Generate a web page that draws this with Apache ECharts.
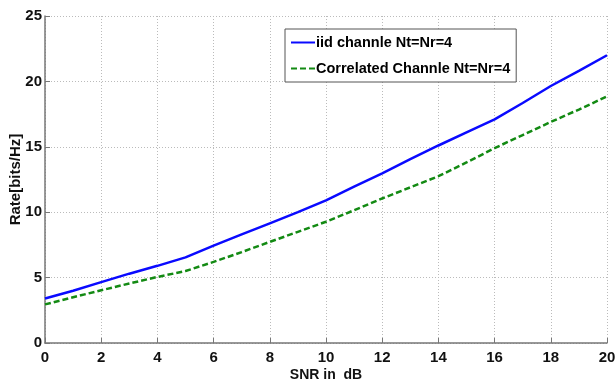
<!DOCTYPE html>
<html>
<head>
<meta charset="utf-8">
<script src="https://cdn.jsdelivr.net/npm/echarts@6/dist/echarts.min.js"></script>
<style>
  html, body { margin: 0; padding: 0; background: #fff; }
  #container { width: 615px; height: 382px; }
</style>
</head>
<body>
<div id="container"></div>
<script>
// SNR (dB) values
var snr = [0, 1, 2, 3, 4, 5, 6, 7, 8, 9, 10, 11, 12, 13, 14, 15, 16, 17, 18, 19, 20];
// rate, iid channel
var iidRate = [3.4, 4.0, 4.65, 5.3, 5.9, 6.55, 7.45, 8.3, 9.15, 10.0, 10.9, 11.95, 12.97, 14.05, 15.1, 16.1, 17.1, 18.35, 19.65, 20.8, 22.0];
// rate, correlated channel
var corrRate = [2.95, 3.5, 4.03, 4.55, 5.05, 5.5, 6.2, 6.95, 7.73, 8.5, 9.27, 10.15, 11.05, 11.9, 12.75, 13.8, 14.9, 15.9, 16.9, 17.85, 18.85];
var seriesNames = ['iid channle Nt=Nr=4', 'Correlated Channle Nt=Nr=4'];

function pairs(xs, ys) {
    return xs.map(function (x, i) { return [x, ys[i]]; });
}

var font = 'Liberation Sans, Arial, sans-serif';
var myChart = echarts.init(document.getElementById('container'));
myChart.setOption({
    animation: false,
    grid: { left: 45, right: 8, top: 16, bottom: 39, containLabel: false, outerBoundsMode: 'none' },
    legend: {
        orient: 'vertical',
        left: 285,
        top: 29,
        padding: [6, 6, 6, 5],
        itemGap: 11,
        itemWidth: 24,
        itemHeight: 10,
        itemStyle: { opacity: 0 },
        borderColor: '#555',
        borderWidth: 1,
        backgroundColor: '#fff',
        textStyle: { fontFamily: font, fontWeight: 'bold', fontSize: 14.5, color: '#000', padding: [0, 0, 0, -4] },
        data: seriesNames
    },
    xAxis: {
        type: 'value',
        min: 0,
        max: 20,
        interval: 2,
        name: 'SNR in  dB',
        nameLocation: 'middle',
        nameGap: 25,
        nameMoveOverlap: false,
        nameTextStyle: { fontFamily: font, fontWeight: 'bold', fontSize: 14, color: '#111' },
        axisLine: { lineStyle: { color: '#777', width: 1.5 } },
        axisTick: { inside: true, length: 5, lineStyle: { color: '#777' } },
        axisLabel: { fontFamily: font, fontWeight: 'bold', fontSize: 15, color: '#111', margin: 7 },
        splitLine: { show: true, lineStyle: { color: '#bbb', type: [1, 2] } }
    },
    yAxis: {
        type: 'value',
        min: 0,
        max: 25,
        interval: 5,
        name: 'Rate[bits/Hz]',
        nameLocation: 'middle',
        nameGap: 22,
        nameMoveOverlap: false,
        nameTextStyle: { fontFamily: font, fontWeight: 'bold', fontSize: 15, color: '#111' },
        axisLine: { show: true, lineStyle: { color: '#777', width: 1.5 } },
        axisTick: { show: true, inside: true, length: 5, lineStyle: { color: '#777' } },
        axisLabel: { fontFamily: font, fontWeight: 'bold', fontSize: 15, color: '#111', margin: 3 },
        splitLine: { show: true, lineStyle: { color: '#bbb', type: [1, 2] } }
    },
    series: [
        {
            name: seriesNames[0],
            type: 'line',
            symbol: 'none',
            color: '#0a0aff',
            lineStyle: { width: 2.5, color: '#0a0aff' },
            data: pairs(snr, iidRate)
        },
        {
            name: seriesNames[1],
            type: 'line',
            symbol: 'none',
            color: '#138a13',
            lineStyle: { width: 2.5, color: '#138a13', type: [6, 3] },
            data: pairs(snr, corrRate)
        }
    ]
});
</script>
</body>
</html>
